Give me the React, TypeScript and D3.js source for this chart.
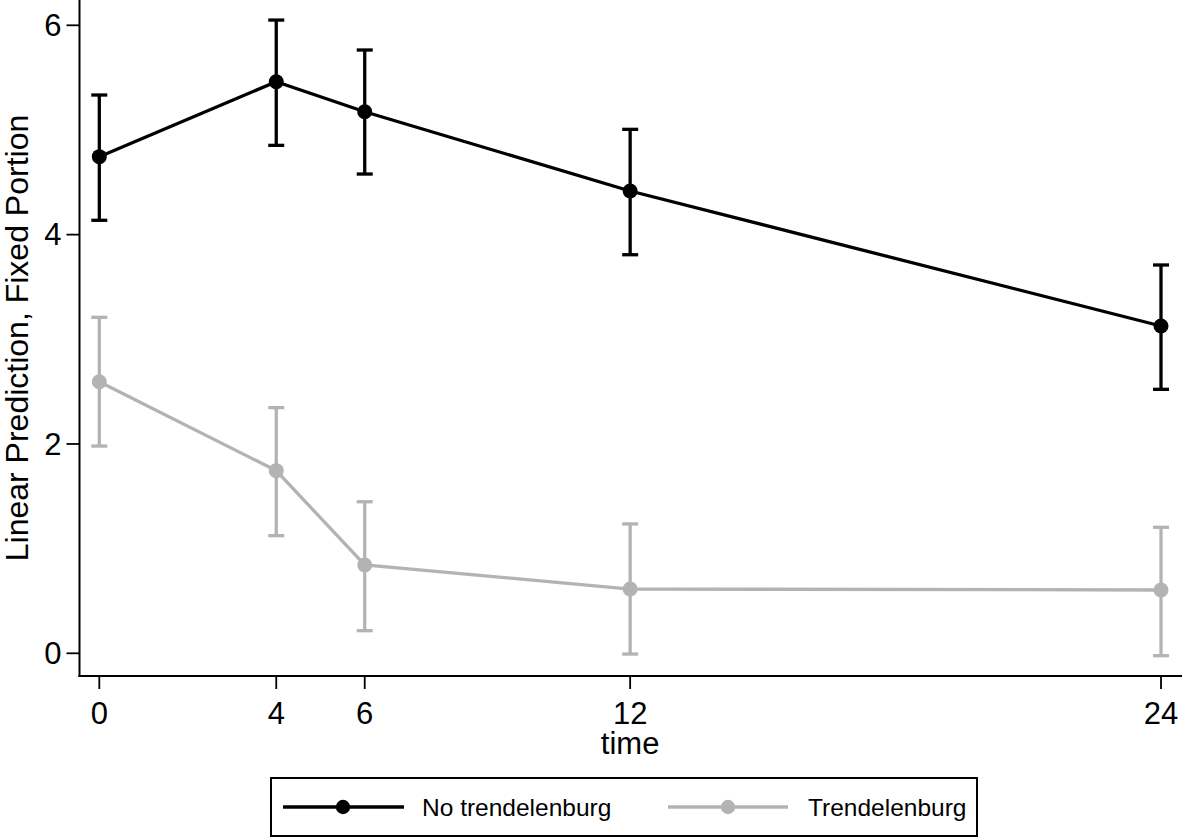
import React from "react";
import * as d3 from "d3";

const times = [0, 4, 6, 12, 24];
const xTicks = [0, 4, 6, 12, 24];
const yTicks = [0, 2, 4, 6];

const noTrendMean = [4.745, 5.461, 5.174, 4.417, 3.127];
const noTrendLo = [4.137, 4.853, 4.579, 3.808, 2.522];
const noTrendHi = [5.334, 6.05, 5.764, 5.006, 3.71];

const trendMean = [2.595, 1.745, 0.844, 0.614, 0.605];
const trendLo = [1.98, 1.124, 0.216, -0.007, -0.023];
const trendHi = [3.21, 2.347, 1.448, 1.236, 1.204];

const seriesNames = ["No trendelenburg", "Trendelenburg"];
const seriesColors = ["#000000", "#b3b3b3"];

const W = 1182;
const H = 838;
const FONT = "'Liberation Sans', Arial, Helvetica, sans-serif";

export default function App() {
  const x = d3.scaleLinear().domain([0, 24]).range([99.3, 1161]);
  const y = d3.scaleLinear().domain([0, 6]).range([653.3, 25.3]);
  const axisX = 79.5;
  const axisY = 676;

  const series = [
    { name: seriesNames[0], color: seriesColors[0], mean: noTrendMean, lo: noTrendLo, hi: noTrendHi },
    { name: seriesNames[1], color: seriesColors[1], mean: trendMean, lo: trendLo, hi: trendHi },
  ];

  const line = d3
    .line<number>()
    .x((_, i) => x(times[i]))
    .y((d) => y(d));

  const capHalf = 8;

  return (
    <svg
      width={W}
      height={H}
      viewBox={`0 0 ${W} ${H}`}
      style={{ position: "absolute", left: 0, top: 0, background: "#fff" }}
      fontFamily={FONT}
    >
      <rect x={0} y={0} width={W} height={H} fill="#fff" />
      {/* axes */}
      <line x1={axisX} x2={axisX} y1={0} y2={axisY + 1} stroke="#000" strokeWidth={2} />
      <line x1={axisX - 1} x2={W} y1={axisY} y2={axisY} stroke="#000" strokeWidth={2} />
      {yTicks.map((t) => (
        <g key={"y" + t}>
          <line x1={axisX - 13} x2={axisX} y1={y(t)} y2={y(t)} stroke="#000" strokeWidth={1.8} />
          <text x={axisX - 18} y={y(t)} dy="0.35em" textAnchor="end" fontSize={31} fill="#000">
            {t}
          </text>
        </g>
      ))}
      {xTicks.map((t) => (
        <g key={"x" + t}>
          <line x1={x(t)} x2={x(t)} y1={axisY} y2={axisY + 13} stroke="#000" strokeWidth={1.8} />
          <text x={x(t)} y={724} textAnchor="middle" fontSize={31} fill="#000">
            {t}
          </text>
        </g>
      ))}
      <text x={x(12)} y={754} textAnchor="middle" fontSize={31} fill="#000">
        time
      </text>
      <text
        transform={`translate(28, ${axisY / 2}) rotate(-90)`}
        textAnchor="middle"
        fontSize={32}
        fill="#000"
      >
        Linear Prediction, Fixed Portion
      </text>

      {/* series */}
      {series
        .slice()
        .reverse()
        .map((s) => (
          <g key={s.name}>
            {times.map((t, i) => (
              <g key={t}>
                <line x1={x(t)} x2={x(t)} y1={y(s.lo[i])} y2={y(s.hi[i])} stroke={s.color} strokeWidth={3.3} />
                <line x1={x(t) - capHalf} x2={x(t) + capHalf} y1={y(s.lo[i])} y2={y(s.lo[i])} stroke={s.color} strokeWidth={3.3} />
                <line x1={x(t) - capHalf} x2={x(t) + capHalf} y1={y(s.hi[i])} y2={y(s.hi[i])} stroke={s.color} strokeWidth={3.3} />
              </g>
            ))}
            <path d={line(s.mean) || ""} fill="none" stroke={s.color} strokeWidth={3.3} />
            {times.map((t, i) => (
              <circle key={"c" + t} cx={x(t)} cy={y(s.mean[i])} r={7.5} fill={s.color} />
            ))}
          </g>
        ))}

      {/* legend */}
      <rect x={271} y={778} width={706} height={58} fill="#fff" stroke="#000" strokeWidth={2} />
      <line x1={283} x2={404} y1={807} y2={807} stroke={seriesColors[0]} strokeWidth={3.3} />
      <circle cx={343} cy={807} r={7.2} fill={seriesColors[0]} />
      <text x={422} y={815.5} fontSize={24.5} fill="#000">
        {seriesNames[0]}
      </text>
      <line x1={668} x2={788} y1={807} y2={807} stroke={seriesColors[1]} strokeWidth={3.3} />
      <circle cx={728} cy={807} r={7.2} fill={seriesColors[1]} />
      <text x={808} y={815.5} fontSize={24.5} fill="#000">
        {seriesNames[1]}
      </text>
    </svg>
  );
}
